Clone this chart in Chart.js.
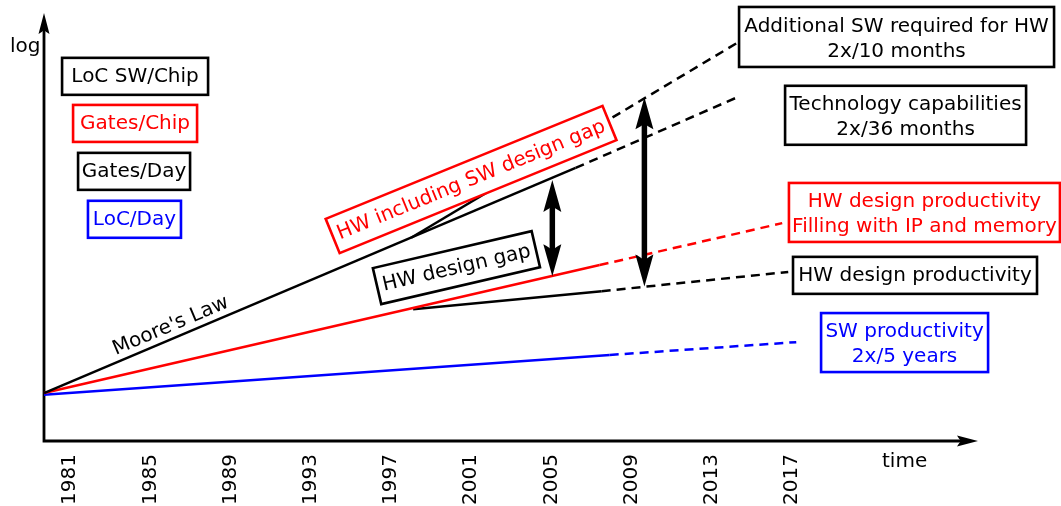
<!DOCTYPE html>
<html>
<head>
<meta charset="utf-8">
<script src="https://cdn.jsdelivr.net/npm/chart.js@4.4.1/dist/chart.umd.min.js"></script>
<style>
  html, body { margin: 0; padding: 0; background: #fff; }
</style>
</head>
<body>
<canvas id="canvas" width="1061" height="506"></canvas>
<script>
// years shown under the time axis
var tickYears = [1981, 1985, 1989, 1993, 1997, 2001, 2005, 2009, 2013, 2017];

// curves as [year, log level] - solid part is history, dashed part is the trend
var mooreSolid   = [[1979.7, 1.12], [2006.2, 6.38]];
var mooreDashed  = [[2006.2, 6.38], [2014.4, 8.06]];
var hwSwSolid    = [[1998.0, 4.75], [2007.4, 7.38]];
var hwSwDashed   = [[2007.4, 7.38], [2014.25, 9.30]];
var gatesSolid   = [[1979.7, 1.12], [2007.4, 4.11]];
var gatesDashed  = [[2007.4, 4.11], [2016.5, 5.09]];
var hwProdSolid  = [[1998.1, 3.08], [2007.5, 3.50]];
var hwProdDashed = [[2007.5, 3.50], [2016.8, 3.95]];
var swProdSolid  = [[1979.7, 1.08], [2007.9, 2.01]];
var swProdDashed = [[2007.9, 2.01], [2017.2, 2.31]];

// design gap arrows: [year, low level, high level]
var gapArrows = [[2005.04, 3.85, 6.10], [2009.63, 3.61, 8.03]];

var RED = '#ff0000', BLUE = '#0000ff', BLACK = '#000000';
var FONT = '20px "DejaVu Sans"';

// text boxes, anchored in (year, level)
var notes = [
  {text: ['LoC SW/Chip'], at: [1984.24, 8.52], w: 146, h: 37, color: BLACK},
  {text: ['Gates/Chip'], at: [1984.24, 7.42], w: 124, h: 37, color: RED},
  {text: ['Gates/Day'], at: [1984.19, 6.30], w: 112, h: 37, color: BLACK},
  {text: ['LoC/Day'], at: [1984.21, 5.18], w: 93, h: 37, color: BLUE},
  {text: ['Additional SW required for HW', '2x/10 months'], at: [2022.2, 9.44], w: 315, h: 60, color: BLACK},
  {text: ['Technology capabilities', '2x/36 months'], at: [2022.65, 7.61], w: 241, h: 59, color: BLACK},
  {text: ['HW design productivity', 'Filling with IP and memory'], at: [2023.59, 5.34], w: 271, h: 59, color: RED},
  {text: ['HW design productivity'], at: [2023.12, 3.87], w: 244, h: 37, color: BLACK},
  {text: ['SW productivity', '2x/5 years'], at: [2022.6, 2.30], w: 167, h: 59, color: BLUE},
  {text: ['HW including SW design gap'], at: [2000.99, 6.11], w: 299, h: 37, angle: 22.2, color: RED},
  {text: ['HW design gap'], at: [2000.26, 4.05], w: 163, h: 37, angle: 13.1, color: BLACK},
  {text: ["Moore's Law"], at: [1985.98, 2.73], angle: 23, color: BLACK}
];

function pts(arr) {
  return arr.map(function(p) { return {x: p[0], y: p[1]}; });
}

function line(data, color, dashed) {
  return {
    data: pts(data),
    borderColor: color,
    borderWidth: 2.5,
    borderDash: dashed ? [9, 6] : [],
    pointRadius: 0,
    tension: 0,
    fill: false,
    clip: false
  };
}

// arrow head, tip at (x,y); dir -1 points up, +1 points down
function head(ctx, x, y, dir, len, half) {
  var b = -dir;
  ctx.beginPath();
  ctx.moveTo(x, y);
  ctx.lineTo(x + half, y + b * len);
  ctx.quadraticCurveTo(x + half * 0.2, y + b * len * 0.88, x, y + b * len * 0.8);
  ctx.quadraticCurveTo(x - half * 0.2, y + b * len * 0.88, x - half, y + b * len);
  ctx.closePath();
  ctx.fill();
}

function drawNote(ctx, chart, n) {
  var x = chart.scales.x.getPixelForValue(n.at[0]);
  var y = chart.scales.y.getPixelForValue(n.at[1]);
  ctx.save();
  ctx.translate(x, y);
  ctx.rotate(-(n.angle || 0) * Math.PI / 180);
  if (n.w) {
    ctx.fillStyle = '#fff';
    ctx.fillRect(-n.w / 2, -n.h / 2, n.w, n.h);
    ctx.lineWidth = 2.6;
    ctx.strokeStyle = n.color;
    ctx.strokeRect(-n.w / 2, -n.h / 2, n.w, n.h);
  }
  ctx.fillStyle = n.color;
  ctx.font = FONT;
  ctx.textAlign = 'center';
  ctx.textBaseline = 'alphabetic';
  var first = n.text.length === 1 ? 6 : -5.2;
  if (!n.w) first = 7.3;
  n.text.forEach(function(t, i) {
    ctx.fillText(t, 0, first + i * 25);
  });
  ctx.restore();
}

var diagram = {
  id: 'diagram',
  beforeDatasetsDraw: function(chart) {
    var ctx = chart.ctx, a = chart.chartArea;
    ctx.save();
    ctx.strokeStyle = BLACK;
    ctx.fillStyle = BLACK;
    ctx.lineWidth = 2.8;
    ctx.beginPath();
    ctx.moveTo(a.left, a.bottom + 1.4);
    ctx.lineTo(a.left, a.top + 14);
    ctx.moveTo(a.left - 1.4, a.bottom);
    ctx.lineTo(a.right - 14, a.bottom);
    ctx.stroke();
    head(ctx, a.left, a.top, -1, 21, 5.5);
    // x arrow head pointing right
    ctx.save();
    ctx.translate(a.right, a.bottom);
    ctx.rotate(Math.PI / 2);
    head(ctx, 0, 0, -1, 21, 5.5);
    ctx.restore();
    ctx.font = FONT;
    ctx.textAlign = 'left';
    ctx.textBaseline = 'alphabetic';
    ctx.fillText('log', a.left - 34, a.top + 39);
    ctx.fillText('time', a.right - 96, a.bottom + 26);
    ctx.restore();
  },
  afterDatasetsDraw: function(chart) {
    var ctx = chart.ctx;
    ctx.save();
    notes.forEach(function(n) { drawNote(ctx, chart, n); });
    ctx.fillStyle = BLACK;
    ctx.strokeStyle = BLACK;
    gapArrows.forEach(function(g) {
      var x = chart.scales.x.getPixelForValue(g[0]);
      var yLow = chart.scales.y.getPixelForValue(g[1]);
      var yHigh = chart.scales.y.getPixelForValue(g[2]);
      ctx.lineWidth = 5.5;
      ctx.beginPath();
      ctx.moveTo(x, yHigh + 24);
      ctx.lineTo(x, yLow - 24);
      ctx.stroke();
      head(ctx, x, yHigh, -1, 32, 9);
      head(ctx, x, yLow, 1, 32, 9);
    });
    ctx.restore();
  }
};

Chart.defaults.font.family = '"DejaVu Sans"';
Chart.defaults.font.size = 20;
Chart.defaults.color = BLACK;

var chart = new Chart(document.getElementById('canvas'), {
  type: 'line',
  data: {
    datasets: [
      line(mooreSolid, BLACK, false),
      line(mooreDashed, BLACK, true),
      line(hwSwSolid, BLACK, false),
      line(hwSwDashed, BLACK, true),
      line(gatesSolid, RED, false),
      line(gatesDashed, RED, true),
      line(hwProdSolid, BLACK, false),
      line(hwProdDashed, BLACK, true),
      line(swProdSolid, BLUE, false),
      line(swProdDashed, BLUE, true)
    ]
  },
  options: {
    responsive: false,
    animation: false,
    layout: { padding: { left: 44, right: 83, top: 13, bottom: 0 } },
    plugins: {
      legend: { display: false },
      tooltip: { enabled: false }
    },
    scales: {
      x: {
        type: 'linear',
        min: 1979.7,
        max: 2026.26,
        grid: { display: false, drawTicks: false },
        border: { display: false },
        afterBuildTicks: function(scale) {
          scale.ticks = tickYears.map(function(v) { return {value: v}; });
        },
        afterFit: function(scale) { scale.height = 65; },
        ticks: {
          autoSkip: false,
          minRotation: 90,
          maxRotation: 90,
          padding: 13,
          callback: function(v) { return String(v); }
        }
      },
      y: {
        display: false,
        min: 0,
        max: 10
      }
    }
  },
  plugins: [diagram]
});
</script>
</body>
</html>
